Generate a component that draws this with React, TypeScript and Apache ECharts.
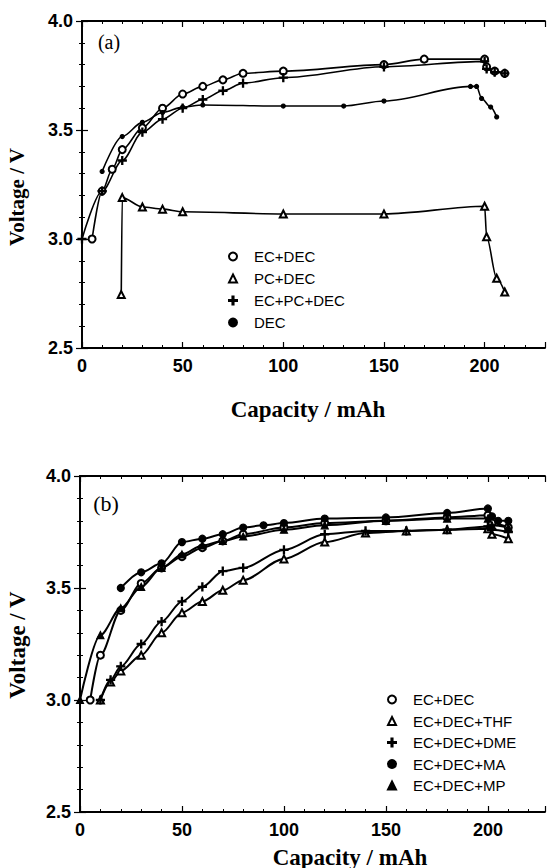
import React, { useEffect, useRef } from "react";
import * as echarts from "echarts";

// ---------- Panel (a) ----------
const xTickLabels = [0, 50, 100, 150, 200];
const yTickLabels = [2.5, 3.0, 3.5, 4.0];

const legendA = ["EC+DEC", "PC+DEC", "EC+PC+DEC", "DEC"];
const aEcDec: [number, number][] = [
  [5, 3.0], [10, 3.22], [15, 3.32], [20, 3.41], [30, 3.51], [40, 3.6], [50, 3.665],
  [60, 3.7], [70, 3.73], [80, 3.76], [100, 3.77], [150, 3.8], [170, 3.825],
  [200, 3.825], [201, 3.79], [205, 3.77], [210, 3.76],
];
const aPcDec: [number, number][] = [
  [19.5, 2.745], [20, 3.19], [30, 3.147], [40, 3.137], [50, 3.125], [100, 3.115],
  [150, 3.115], [200, 3.15], [201, 3.01], [206, 2.82], [210, 2.757],
];
const aEcPcDec: [number, number][] = [
  [0, 3.0], [10, 3.22], [20, 3.36], [30, 3.49], [40, 3.55], [50, 3.6], [60, 3.64],
  [70, 3.68], [80, 3.715], [100, 3.74], [150, 3.79], [200, 3.815], [201, 3.78],
  [205, 3.765], [210, 3.76],
];
const aDec: [number, number][] = [
  [10, 3.31], [20, 3.47], [30, 3.535], [40, 3.58], [50, 3.605], [60, 3.615],
  [100, 3.61], [130, 3.61], [150, 3.633], [193, 3.7], [196, 3.7], [198.5, 3.645],
  [203, 3.605], [206, 3.56],
];

// ---------- Panel (b) ----------
const legendB = ["EC+DEC", "EC+DEC+THF", "EC+DEC+DME", "EC+DEC+MA", "EC+DEC+MP"];
const bEcDec: [number, number][] = [
  [5, 3.0], [10, 3.2], [20, 3.4], [30, 3.52], [40, 3.59], [50, 3.64], [60, 3.68],
  [70, 3.71], [80, 3.74], [100, 3.77], [120, 3.79], [150, 3.8], [180, 3.815],
  [200, 3.825], [202, 3.79], [210, 3.77],
];
const bThf: [number, number][] = [
  [10, 3.0], [15, 3.08], [20, 3.13], [30, 3.2], [40, 3.3], [50, 3.39], [60, 3.44],
  [70, 3.49], [80, 3.535], [100, 3.63], [120, 3.705], [140, 3.745], [160, 3.755],
  [180, 3.76], [200, 3.765], [202, 3.74], [210, 3.72],
];
const bDme: [number, number][] = [
  [10, 3.0], [15, 3.09], [20, 3.15], [30, 3.25], [40, 3.35], [50, 3.44], [60, 3.505],
  [70, 3.575], [80, 3.59], [100, 3.67], [120, 3.74], [140, 3.755], [160, 3.755],
  [180, 3.76], [200, 3.775], [202, 3.76], [210, 3.75],
];
const bMa: [number, number][] = [
  [20, 3.5], [30, 3.57], [40, 3.61], [50, 3.705], [60, 3.72], [70, 3.74], [80, 3.77],
  [90, 3.78], [100, 3.79], [120, 3.81], [150, 3.815], [180, 3.835], [200, 3.855],
  [202, 3.82], [205, 3.8], [210, 3.8],
];
const bMp: [number, number][] = [
  [0, 3.0], [10, 3.29], [20, 3.41], [30, 3.505], [40, 3.59], [50, 3.65], [60, 3.69],
  [70, 3.71], [80, 3.73], [100, 3.76], [120, 3.78], [150, 3.8], [180, 3.81],
  [200, 3.81], [202, 3.78], [210, 3.77],
];

const PLUS = "path://M4.3,0H5.7V4.3H10V5.7H5.7V10H4.3V5.7H0V4.3H4.3Z";

export default function App() {
  const ref = useRef<HTMLDivElement>(null);
  useEffect(() => {
    document.body.style.margin = "0";
    if (!ref.current) return;
    const chart = echarts.init(ref.current, undefined, { renderer: "svg" });
    const black = "#000";
    const sans = "Liberation Sans, Arial, sans-serif";
    const serif = "Liberation Serif, Times New Roman, serif";

    const xAxis = (gridIndex: number, max: number, top: boolean) => ({
      type: "value",
      gridIndex,
      min: 0,
      max,
      interval: 50,
      position: top ? "top" : "bottom",
      axisLine: { show: true, lineStyle: { color: black, width: 1.8 } },
      axisTick: { show: true, inside: true, length: 6, lineStyle: { color: black, width: 1.2 } },
      minorTick: { show: true, splitNumber: 5, length: 3, lineStyle: { color: black, width: 1 } },
      splitLine: { show: false },
      axisLabel: {
        show: !top,
        margin: 9,
        color: black,
        fontFamily: sans,
        fontWeight: "bold",
        fontSize: 18,
        formatter: (v: number) => (xTickLabels.includes(v) ? String(v) : ""),
      },
    });
    const yAxis = (gridIndex: number, right: boolean) => ({
      type: "value",
      gridIndex,
      min: 2.5,
      max: 4.0,
      interval: 0.5,
      position: right ? "right" : "left",
      axisLine: { show: true, lineStyle: { color: black, width: 1.8 } },
      axisTick: { show: true, inside: true, length: 6, lineStyle: { color: black, width: 1.2 } },
      minorTick: { show: true, splitNumber: 5, length: 3, lineStyle: { color: black, width: 1 } },
      splitLine: { show: false },
      axisLabel: {
        show: !right,
        margin: 9,
        color: black,
        fontFamily: sans,
        fontWeight: "bold",
        fontSize: 18,
        formatter: (v: number) =>
          yTickLabels.some((t) => Math.abs(t - v) < 1e-6) ? v.toFixed(1) : "",
      },
    });

    const mk = (
      name: string,
      data: [number, number][],
      axis: number,
      symbol: string,
      size: number,
      width: number
    ) => ({
      type: "line",
      name,
      data,
      xAxisIndex: axis,
      yAxisIndex: axis,
      smooth: 0.3,
      smoothMonotone: "x",
      symbol,
      symbolSize: size,
      showSymbol: true,
      lineStyle: { color: black, width },
      itemStyle: { color: black, borderColor: black, borderWidth: 1.2 },
      emphasis: { disabled: true },
      z: 3,
    });

    const legendCommon = {
      orient: "vertical",
      itemWidth: 8,
      itemHeight: 8,
      itemGap: 7,
      selectedMode: false,
      textStyle: { color: black, fontFamily: sans, fontSize: 15, padding: [0, 0, 0, 12] },
    };
    const icons: Record<string, string> = {
      "EC+DEC": "emptyCircle",
      "PC+DEC": "emptyTriangle",
      "EC+PC+DEC": PLUS,
      DEC: "circle",
      "EC+DEC+THF": "emptyTriangle",
      "EC+DEC+DME": PLUS,
      "EC+DEC+MA": "circle",
      "EC+DEC+MP": "triangle",
    };

    chart.setOption({
      animation: false,
      backgroundColor: "#fff",
      grid: [
        { left: 82, top: 21, width: 464, height: 327 },
        { left: 80, top: 476, width: 467, height: 336 },
      ],
      xAxis: [xAxis(0, 230, false), xAxis(0, 230, true), xAxis(1, 228, false), xAxis(1, 228, true)],
      yAxis: [yAxis(0, false), yAxis(0, true), yAxis(1, false), yAxis(1, true)],
      legend: [
        {
          ...legendCommon,
          left: 223,
          top: 244,
          data: legendA.map((n) => ({ name: n, icon: icons[n] })),
        },
        {
          ...legendCommon,
          left: 382,
          top: 687,
          itemGap: 6.5,
          data: legendB.map((n) => ({ name: n, icon: icons[n] })),
        },
      ],
      series: [
        mk("EC+DEC", aEcDec, 0, "emptyCircle", 7, 1.6),
        mk("PC+DEC", aPcDec, 0, "emptyTriangle", 7, 1.6),
        mk("EC+PC+DEC", aEcPcDec, 0, PLUS, 8, 1.6),
        mk("DEC", aDec, 0, "circle", 4, 1.6),
        mk("EC+DEC", bEcDec, 2, "emptyCircle", 7, 2),
        mk("EC+DEC+THF", bThf, 2, "emptyTriangle", 7, 2),
        mk("EC+DEC+DME", bDme, 2, PLUS, 8, 2),
        mk("EC+DEC+MA", bMa, 2, "circle", 7, 2),
        mk("EC+DEC+MP", bMp, 2, "triangle", 7, 2),
      ],
      graphic: [
        { type: "text", x: 109, y: 42, style: { text: "(a)", font: `20px ${serif}`, fill: black, align: "center", verticalAlign: "middle" } },
        { type: "text", x: 106, y: 503, style: { text: "(b)", font: `22px ${serif}`, fill: black, align: "center", verticalAlign: "middle" } },
        { type: "text", x: 308, y: 409, style: { text: "Capacity / mAh", font: `bold 23px ${serif}`, fill: black, align: "center", verticalAlign: "middle" } },
        { type: "text", x: 350, y: 857, style: { text: "Capacity / mAh", font: `bold 23px ${serif}`, fill: black, align: "center", verticalAlign: "middle" } },
        { type: "text", x: 17, y: 197, rotation: Math.PI / 2, style: { text: "Voltage / V", font: `bold 21px ${serif}`, fill: black, align: "center", verticalAlign: "middle" } },
        { type: "text", x: 17, y: 645, rotation: Math.PI / 2, style: { text: "Voltage / V", font: `bold 23px ${serif}`, fill: black, align: "center", verticalAlign: "middle" } },
      ],
    });
    return () => chart.dispose();
  }, []);
  return <div ref={ref} style={{ width: 548, height: 868 }} />;
}
